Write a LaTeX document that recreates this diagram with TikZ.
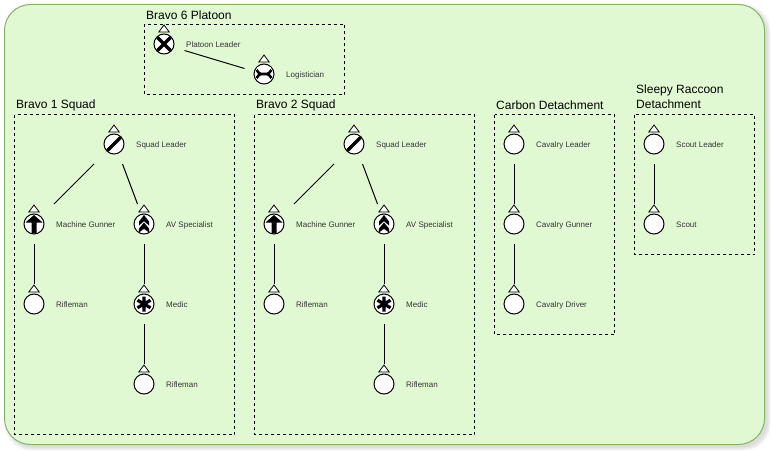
\documentclass[tikz,border=0pt]{standalone}
\usepackage{fontspec}
\setmainfont{Liberation Sans}
\usetikzlibrary{calc}
\definecolor{panelfill}{HTML}{E1F9D3}
\definecolor{panelline}{HTML}{82B366}
\definecolor{labelgrey}{HTML}{333333}
\tikzset{
  x=1pt,y=-1pt,
  panel/.style={draw=panelline,fill=panelfill,line width=1pt,rounded corners=26pt},
  glow/.style={fill=black,draw=none,rounded corners=26pt,opacity=0.035},
  groupbox/.style={draw=black,line width=1pt,dash pattern=on 3pt off 3pt},
  grouptitle/.style={anchor=west,inner sep=0pt,font=\fontsize{12}{14}\selectfont,align=left},
  hitbox/.style={inner sep=0pt,outer sep=0pt,minimum width=40pt,minimum height=40pt},
  disc/.style={circle,draw=black,fill=white,line width=1pt,minimum size=20pt,inner sep=0pt,outer sep=0pt},
  rolelabel/.style={anchor=west,inner sep=0pt,text=labelgrey,font=\fontsize{8}{10}\selectfont},
  link/.style={draw=black,line width=1pt},
  rank/.style={draw=black,fill=white,line width=0.8pt,line join=miter},
  mark stroke/.style={draw=black,line width=3.2pt},
  mark thin/.style={draw=black,line width=2.6pt},
}
\newcommand{\soldier}[5]{% name, x, y, label, symbol
  \node[hitbox] (#1) at (#2,#3) {};
  \path[rank] ($(#1.center)+(-5.2,-12)$) -- ($(#1.center)+(0,-19)$) -- ($(#1.center)+(5.2,-12)$) -- cycle;
  \node[disc] (#1c) at (#1.center) {};
  \node[rolelabel] (#1l) at ($(#1.center)+(22,1)$) {#4};
  \begin{scope}[shift={(#2,#3)}]
    \clip (0,0) circle (9.5);
    #5
  \end{scope}
}
\newcommand{\symnone}{}
\newcommand{\symslash}{\draw[mark stroke] (-8,8) -- (8,-8);}
\newcommand{\symcross}{\draw[mark stroke] (-8,-8) -- (8,8) (-8,8) -- (8,-8);}
\newcommand{\symlog}{\draw[mark thin] (-7.5,-4) .. controls (-5.5,-1.5) and (-4.5,0) .. (-3,0) -- (3,0) .. controls (4.5,0) and (5.5,-1.5) .. (7.5,-4);
  \draw[mark thin] (-7.5,4) .. controls (-5.5,1.5) and (-4.5,0) .. (-3,0) (3,0) .. controls (4.5,0) and (5.5,1.5) .. (7.5,4);}
\newcommand{\symgun}{\fill[black] (-2.5,10) -- (-2.5,-1.5) -- (-8.5,-1.5) -- (0,-9) -- (8.5,-1.5) -- (2.5,-1.5) -- (2.5,10) -- cycle;}
\newcommand{\symav}{\fill[black] (0,-9) -- (5,-2.5) -- (5,1.5) -- (0,-2.8) -- (-5,1.5) -- (-5,-2.5) -- cycle;
  \fill[black] (0,-1.5) -- (5.2,4.8) -- (5.2,8.6) -- (0,4.8) -- (-5.2,8.6) -- (-5.2,4.8) -- cycle;}
\newcommand{\symmed}{\draw[mark stroke] (0,-7.5) -- (0,7.5) (-6.5,-3.8) -- (6.5,3.8) (-6.5,3.8) -- (6.5,-3.8);}
\begin{document}
\begin{tikzpicture}
\useasboundingbox (0,0) rectangle (771,452);
\foreach \g in {0,1,2,3}{
  \path[glow] (4.5+3-\g,4.5+3-\g) rectangle (764.5+3+\g,444.5+3+\g);
}
\path[panel] (4.5,4.5) rectangle (764.5,444.5);

\path[groupbox] (144.5,24.5) rectangle (344.5,94.5);
\path[groupbox] (14.5,114.5) rectangle (234.5,434.5);
\path[groupbox] (254.5,114.5) rectangle (474.5,434.5);
\path[groupbox] (494.5,114.5) rectangle (614.5,334.5);
\path[groupbox] (634.5,114.5) rectangle (754.5,254.5);

\node[grouptitle] (t6) at (146,15.5) {Bravo 6 Platoon};
\node[grouptitle] (t1) at (16,105.5) {Bravo 1 Squad};
\node[grouptitle] (t2) at (256,105.5) {Bravo 2 Squad};
\node[grouptitle] (tc) at (496,105.5) {Carbon Detachment};
\node[grouptitle,anchor=north west] (ts) at (636,85) {Sleepy Raccoon\\[0.5pt]Detachment};

\soldier{pl}{164}{44}{Platoon Leader}{\symcross}
\soldier{lg}{264}{74}{Logistician}{\symlog}

\soldier{asl}{114}{144}{Squad Leader}{\symslash}
\soldier{amg}{34}{224}{Machine Gunner}{\symgun}
\soldier{aav}{144}{224}{AV Specialist}{\symav}
\soldier{arf}{34}{304}{Rifleman}{\symnone}
\soldier{amd}{144}{304}{Medic}{\symmed}
\soldier{arg}{144}{384}{Rifleman}{\symnone}

\soldier{bsl}{354}{144}{Squad Leader}{\symslash}
\soldier{bmg}{274}{224}{Machine Gunner}{\symgun}
\soldier{bav}{384}{224}{AV Specialist}{\symav}
\soldier{brf}{274}{304}{Rifleman}{\symnone}
\soldier{bmd}{384}{304}{Medic}{\symmed}
\soldier{brg}{384}{384}{Rifleman}{\symnone}

\soldier{cl}{514}{144}{Cavalry Leader}{\symnone}
\soldier{cg}{514}{224}{Cavalry Gunner}{\symnone}
\soldier{cd}{514}{304}{Cavalry Driver}{\symnone}

\soldier{sl}{654}{144}{Scout Leader}{\symnone}
\soldier{sc}{654}{224}{Scout}{\symnone}

\draw[link] ($(pl.east)+(0.5,6.5)$) -- ($(lg.west)+(0.5,-5.5)$);

\foreach \p in {a,b}{
  \draw[link] (\p sl.south west) -- (\p mg.north east);
  \draw[link] ($(\p sl.south)+(8.5,0)$) -- ($(\p av.north)+(-6.5,0)$);
  \draw[link] ($(\p mg.south)+(0.5,0)$) -- ($(\p rf.north)+(0.5,0)$);
  \draw[link] ($(\p av.south)+(0.5,0)$) -- ($(\p md.north)+(0.5,0)$);
  \draw[link] ($(\p md.south)+(0.5,0)$) -- ($(\p rg.north)+(0.5,0)$);
}
\draw[link] ($(cl.south)+(0.5,0)$) -- ($(cg.north)+(0.5,0)$);
\draw[link] ($(cg.south)+(0.5,0)$) -- ($(cd.north)+(0.5,0)$);
\draw[link] ($(sl.south)+(0.5,0)$) -- ($(sc.north)+(0.5,0)$);
\end{tikzpicture}
\end{document}
